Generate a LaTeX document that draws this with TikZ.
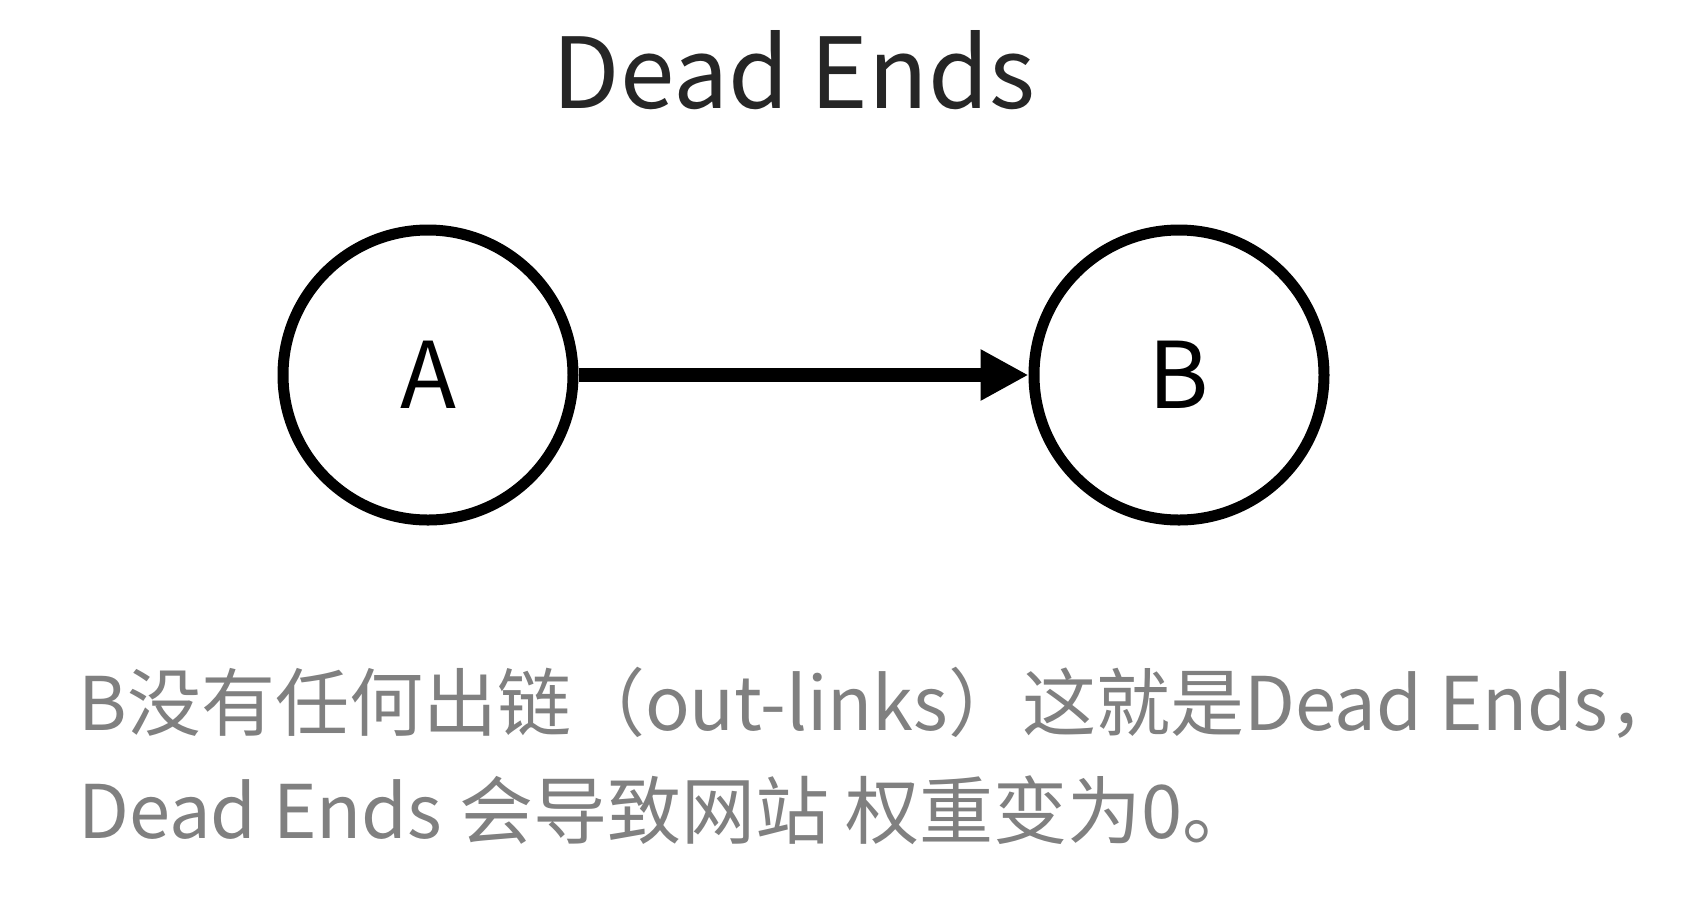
\documentclass[tikz,border=0pt]{standalone}
\usepackage{fontspec}
\setmainfont{Noto Sans CJK SC}
\usetikzlibrary{arrows.meta, positioning}

\begin{document}
\begin{tikzpicture}[
      x=0.5pt, y=-0.5pt,
      node distance=225pt,
      page/.style={rectangle, draw=none, fill=white},
      vertex/.style={circle, draw, line width=5.5pt, minimum size=145pt, fill=white, font=\fontsize{46}{50}\selectfont},
      heading/.style={anchor=base, text=black!85, font=\fontsize{49}{55}\selectfont},
      note/.style={anchor=base west, inner sep=0pt, text=black!50, font=\fontsize{37}{44}\selectfont},
      arrow/.style={-{Triangle[length=24pt, width=24pt]}, line width=7pt}
    ]
    \path[page] (0,0) rectangle (1688,896);
    \useasboundingbox (0,0) rectangle (1688,896);

    \node[heading] (title) at (794,108) {Dead Ends};

    \node[vertex] (a) at (428,375) {A};
    \node[vertex, right=of a] (b) {B};

    \draw[arrow] (a) -- (b);

    \node[note] (line1) at (78,730) {B没有任何出链（out-links）这就是Dead Ends，};
    \node[note] (line2) at (78,838) {Dead Ends 会导致网站 权重变为0。};
  \end{tikzpicture}
\end{document}
